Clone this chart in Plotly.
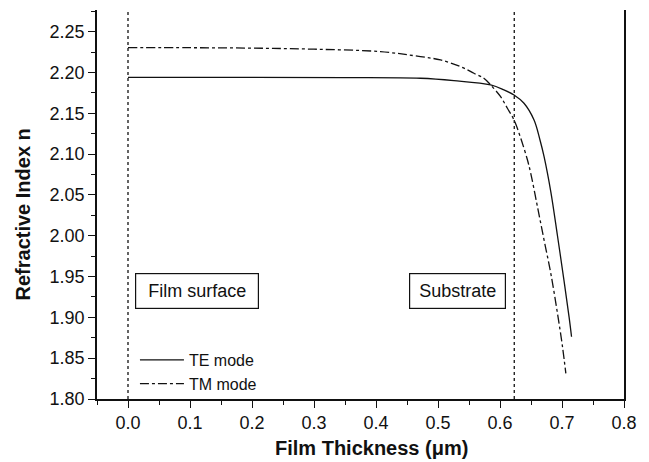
import plotly.graph_objects as go

# ---- data ----
te_x = [0.0, 0.2, 0.35, 0.4717, 0.5256, 0.5849, 0.6064, 0.6226, 0.6387, 0.6549,
        0.6645, 0.6711, 0.6819, 0.6927, 0.7034, 0.7115, 0.7154]
te_n = [2.194, 2.194, 2.1937, 2.1929, 2.190, 2.1847, 2.1786, 2.1724, 2.1623, 2.1418,
        2.1173, 2.0968, 2.054, 2.000, 1.944, 1.900, 1.8762]

tm_x = [0.0, 0.1, 0.2, 0.3, 0.407, 0.4717, 0.504, 0.5364, 0.5579, 0.574, 0.5849,
        0.601, 0.6119, 0.6226, 0.6334, 0.6442, 0.6496, 0.6604, 0.6711, 0.6819,
        0.6927, 0.7008, 0.7062]
tm_n = [2.2305, 2.2303, 2.2298, 2.2285, 2.2255, 2.2194, 2.2153, 2.2071, 2.199, 2.1929,
        2.1847, 2.1703, 2.1561, 2.1418, 2.1195, 2.093, 2.0765, 2.0355, 1.9947, 1.954,
        1.9049, 1.864, 1.8314]

boundary_x = [0.0, 0.623]          # dotted vertical markers
x_ticks = [0.0, 0.1, 0.2, 0.3, 0.4, 0.5, 0.6, 0.7, 0.8]
x_tick_text = ["0.0", "0.1", "0.2", "0.3", "0.4", "0.5", "0.6", "0.7", "0.8"]
y_ticks = [1.80, 1.85, 1.90, 1.95, 2.00, 2.05, 2.10, 2.15, 2.20, 2.25]
y_tick_text = ["1.80", "1.85", "1.90", "1.95", "2.00", "2.05", "2.10", "2.15", "2.20", "2.25"]
x_range = [-0.05, 0.80]
y_range = [1.80, 2.2765]

FONT = "Liberation Sans, Arial, Helvetica, sans-serif"
INK = "#111111"

fig = go.Figure()
fig.add_trace(go.Scatter(x=te_x, y=te_n, mode="lines", name="TE mode",
                         line=dict(color=INK, width=1.3, shape="spline", smoothing=1.0)))
fig.add_trace(go.Scatter(x=tm_x, y=tm_n, mode="lines", name="TM mode",
                         line=dict(color=INK, width=1.3, dash="dashdot", shape="spline",
                                   smoothing=1.0)))

for bx in boundary_x:
    fig.add_shape(type="line", xref="x", yref="paper", x0=bx, x1=bx, y0=0, y1=1,
                  line=dict(color=INK, width=1.3, dash="dot"))

fig.add_annotation(x=0.111, y=1.9322, xref="x", yref="y", text="Film surface",
                   showarrow=False, font=dict(family=FONT, size=18, color=INK),
                   bordercolor=INK, borderwidth=1.2, borderpad=0, width=122, height=34,
                   bgcolor="white")
fig.add_annotation(x=0.5315, y=1.9322, xref="x", yref="y", text="Substrate",
                   showarrow=False, font=dict(family=FONT, size=18, color=INK),
                   bordercolor=INK, borderwidth=1.2, borderpad=0, width=95, height=34,
                   bgcolor="white")

# axis titles (placed as in the reference)
fig.add_annotation(x=0.521, y=-0.126, xref="paper", yref="paper",
                   text="<b>Film Thickness (\u03bcm)</b>", showarrow=False,
                   font=dict(family=FONT, size=20, color=INK), xanchor="center", yanchor="middle")
fig.add_annotation(x=-0.1404, y=0.4743, xref="paper", yref="paper",
                   text="<b>Refractive Index n</b>", showarrow=False, textangle=-90,
                   font=dict(family=FONT, size=20, color=INK), xanchor="center", yanchor="middle")

axis_common = dict(showgrid=False, zeroline=False, linecolor=INK, linewidth=1.5,
                   tickcolor=INK, tickwidth=1.3, ticklen=7,
                   tickfont=dict(family=FONT, size=18, color=INK))

# the page body has an 8px margin, so the figure is 8px smaller and left/top margins shifted
fig.update_layout(
    width=641, height=454,
    margin=dict(l=89, r=25, t=2, b=63),
    paper_bgcolor="white", plot_bgcolor="white",
    font=dict(family=FONT, color=INK),
    showlegend=True,
    legend=dict(x=0.072, y=0.144, xanchor="left", yanchor="top",
                bgcolor="rgba(0,0,0,0)", borderwidth=0, itemwidth=44,
                font=dict(family=FONT, size=16, color=INK), tracegroupgap=0),
    xaxis=dict(range=x_range, tickvals=x_ticks, ticktext=x_tick_text, ticks="outside",
               minor=dict(dtick=0.05, tick0=0, ticks="outside", ticklen=4, tickcolor=INK,
                          tickwidth=1.3),
               showline=True, mirror=False, **axis_common),
    xaxis2=dict(range=x_range, overlaying="x", side="top", tickvals=x_ticks, ticks="inside",
                showticklabels=False,
                minor=dict(dtick=0.05, tick0=0, ticks="inside", ticklen=4, tickcolor=INK,
                           tickwidth=1.3),
                showline=True, **axis_common),
    yaxis=dict(range=y_range, tickvals=y_ticks, ticktext=y_tick_text, ticks="outside",
               minor=dict(dtick=0.025, tick0=1.8, ticks="outside", ticklen=4, tickcolor=INK,
                          tickwidth=1.3),
               showline=True, mirror=True, **axis_common),
)

fig.write_html("out.html")
